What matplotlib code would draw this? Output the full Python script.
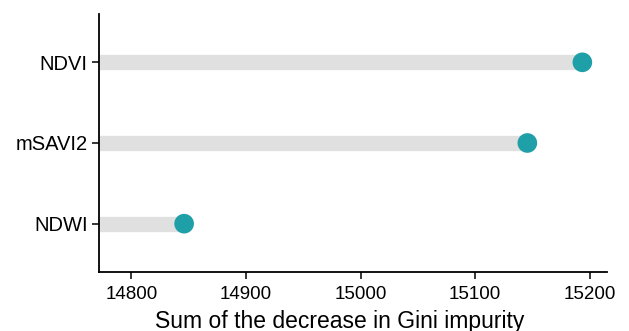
import matplotlib
matplotlib.use("Agg")
import matplotlib.pyplot as plt

# data
indices = ["NDWI", "mSAVI2", "NDVI"]
gini_decrease = [14846, 15145.5, 15193.5]

plt.rcParams['font.family'] = ['Liberation Sans', 'DejaVu Sans']

fig = plt.figure(figsize=(6.29, 3.31), dpi=100)
ax = fig.add_axes([0.157, 0.178, 0.808, 0.78])

x_min, x_max = 14771.5, 15215
ypos = list(range(1, len(indices) + 1))

# grey sticks from the left edge, then the teal heads
ax.hlines(ypos, x_min, gini_decrease, color='#e0e0e0', linewidth=11, zorder=1)
ax.scatter(gini_decrease, ypos, s=200, color='#1fa0a8', edgecolors='none', zorder=2)

ax.set_xlim(x_min, x_max)
ax.set_ylim(0.4, 3.6)
ax.set_xticks([14800, 14900, 15000, 15100, 15200])
ax.set_yticks(ypos)
ax.set_yticklabels(indices)
ax.set_xlabel('Sum of the decrease in Gini impurity', fontsize=16.5)
ax.xaxis.set_label_coords(0.474, -0.145)

for side in ['top', 'right']:
    ax.spines[side].set_visible(False)
for side in ['left', 'bottom']:
    ax.spines[side].set_linewidth(1.3)
ax.tick_params(axis='x', labelsize=13.5, length=5, width=1.1, colors='black', pad=5)
ax.tick_params(axis='y', labelsize=14.5, length=5, width=1.1, colors='black', pad=3)

fig.savefig('out.png', dpi=100)
